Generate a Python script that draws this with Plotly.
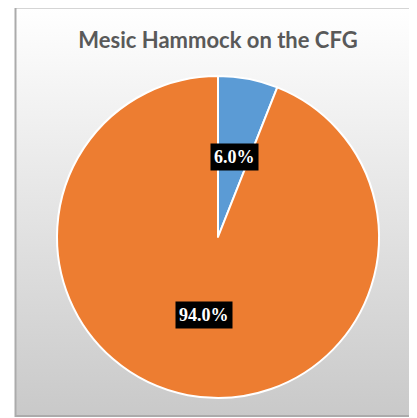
import plotly.graph_objects as go

title_text = "Mesic Hammock on the CFG"
categories = ["Mesic Hammock", "Other"]
values = [6.0, 94.0]
colors = ["#5B9BD5", "#ED7D31"]

# The page body has an 8px margin, so the figure is 8px smaller and
# reference pixel coordinates are shifted by OFF.
OFF = 8
W, H = 417 - OFF, 418 - OFF


def px(x):
    return (x - OFF) / W


def py(y):
    return 1 - (y - OFF) / H


fig = go.Figure()
fig.add_trace(go.Pie(
    labels=categories,
    values=values,
    sort=False,
    direction="clockwise",
    rotation=0,
    marker=dict(colors=colors, line=dict(color="white", width=2)),
    textinfo="none",
    hoverinfo="label+percent",
    showlegend=False,
    domain=dict(x=[px(57), px(379)], y=[py(398), py(76)]),
))

svg = ("data:image/svg+xml;utf8,<svg xmlns='http://www.w3.org/2000/svg' width='100' height='100' preserveAspectRatio='none'>"
       "<defs><linearGradient id='g' x1='0' y1='0' x2='0' y2='1'>"
       "<stop offset='0' stop-color='%23ffffff'/><stop offset='1' stop-color='%23c9c9c9'/>"
       "</linearGradient></defs><rect width='100' height='100' fill='url(%23g)'/></svg>")

fig.add_layout_image(dict(
    source=svg, xref="paper", yref="paper", x=px(16), y=py(8),
    sizex=1.02 - px(16), sizey=py(8) - py(416), sizing="stretch",
    xanchor="left", yanchor="top", layer="below"))

fig.add_shape(type="rect", xref="paper", yref="paper",
              x0=px(15.5), x1=1.02, y0=py(416), y1=py(7.5),
              line=dict(color="#ababab", width=2), layer="below")

total = sum(values)
label_pos = [(235, 157), (204, 315)]
for v, (lx, ly) in zip(values, label_pos):
    fig.add_annotation(
        x=px(lx), y=py(ly), xref="paper", yref="paper",
        xanchor="center", yanchor="middle",
        text=f"<b>{v / total * 100:.1f}%</b>", showarrow=False,
        font=dict(family="Liberation Serif", size=18, color="white"),
        bgcolor="black", borderpad=3)

fig.update_layout(
    width=W, height=H,
    margin=dict(l=0, r=0, t=0, b=0),
    paper_bgcolor="white",
    plot_bgcolor="white",
    title=dict(text=f"<b>{title_text}</b>", x=px(218), xanchor="center",
               y=py(40), yanchor="middle",
               font=dict(family="Lato", size=22, color="#595959")),
)

fig.write_html("out.html")
